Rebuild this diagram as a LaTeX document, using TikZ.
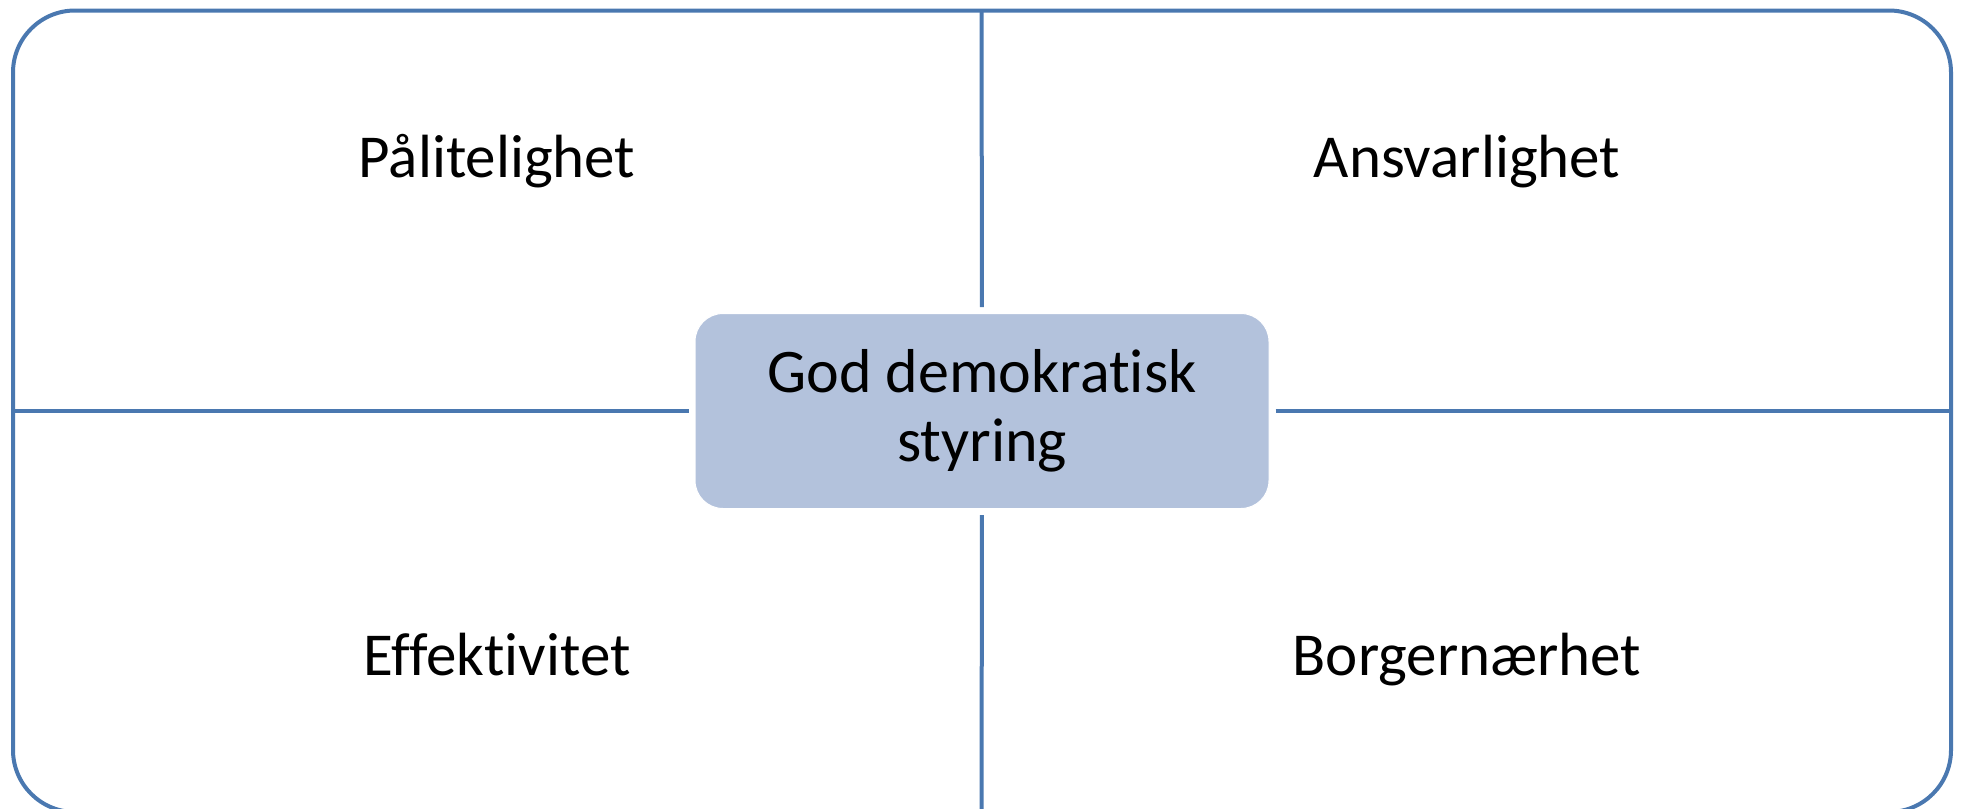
\documentclass[tikz,border=0pt]{standalone}
\usepackage{fontspec}
\setmainfont{Carlito}[Ligatures=NoCommon]
\definecolor{lineblue}{HTML}{4A78B0}
\definecolor{boxblue}{HTML}{B3C2DC}
\begin{document}
\begin{tikzpicture}[x=0.5pt,y=-0.5pt]
\tikzstyle{divider}=[draw=lineblue,line width=2pt]
\tikzstyle{core}=[fill=boxblue,draw=white,line width=0.5pt,rounded corners=14pt,minimum width=287pt,minimum height=97.5pt,align=center,font=\fontsize{31}{34.5}\selectfont]
\tikzstyle{quality}=[anchor=base,font=\fontsize{30.5}{34.5}\selectfont]
\useasboundingbox (0,0) rectangle (1961,809);
\clip (0,0) rectangle (1961,809);
\draw[divider,rounded corners=31pt] (13,10.5) rectangle (1951,812);
\coordinate (N) at (981.5,10.5);
\coordinate (S) at (981.5,812);
\coordinate (W) at (13,411);
\coordinate (E) at (1951,411);
\node[core] (styring) at (982,411) {God demokratisk\\styring};
\node[quality] (paalitelighet) at (497,177) {Pålitelighet};
\node[quality] (ansvarlighet) at (1467,177) {Ansvarlighet};
\node[quality] (effektivitet) at (497,675) {Effektivitet};
\node[quality] (borgernaerhet) at (1467,675) {Borgernærhet};
\foreach \a/\b in {north/N,south/S,west/W,east/E}
	\draw[divider,shorten <=3pt] (styring.\a) -- (\b);
\end{tikzpicture}
\end{document}
